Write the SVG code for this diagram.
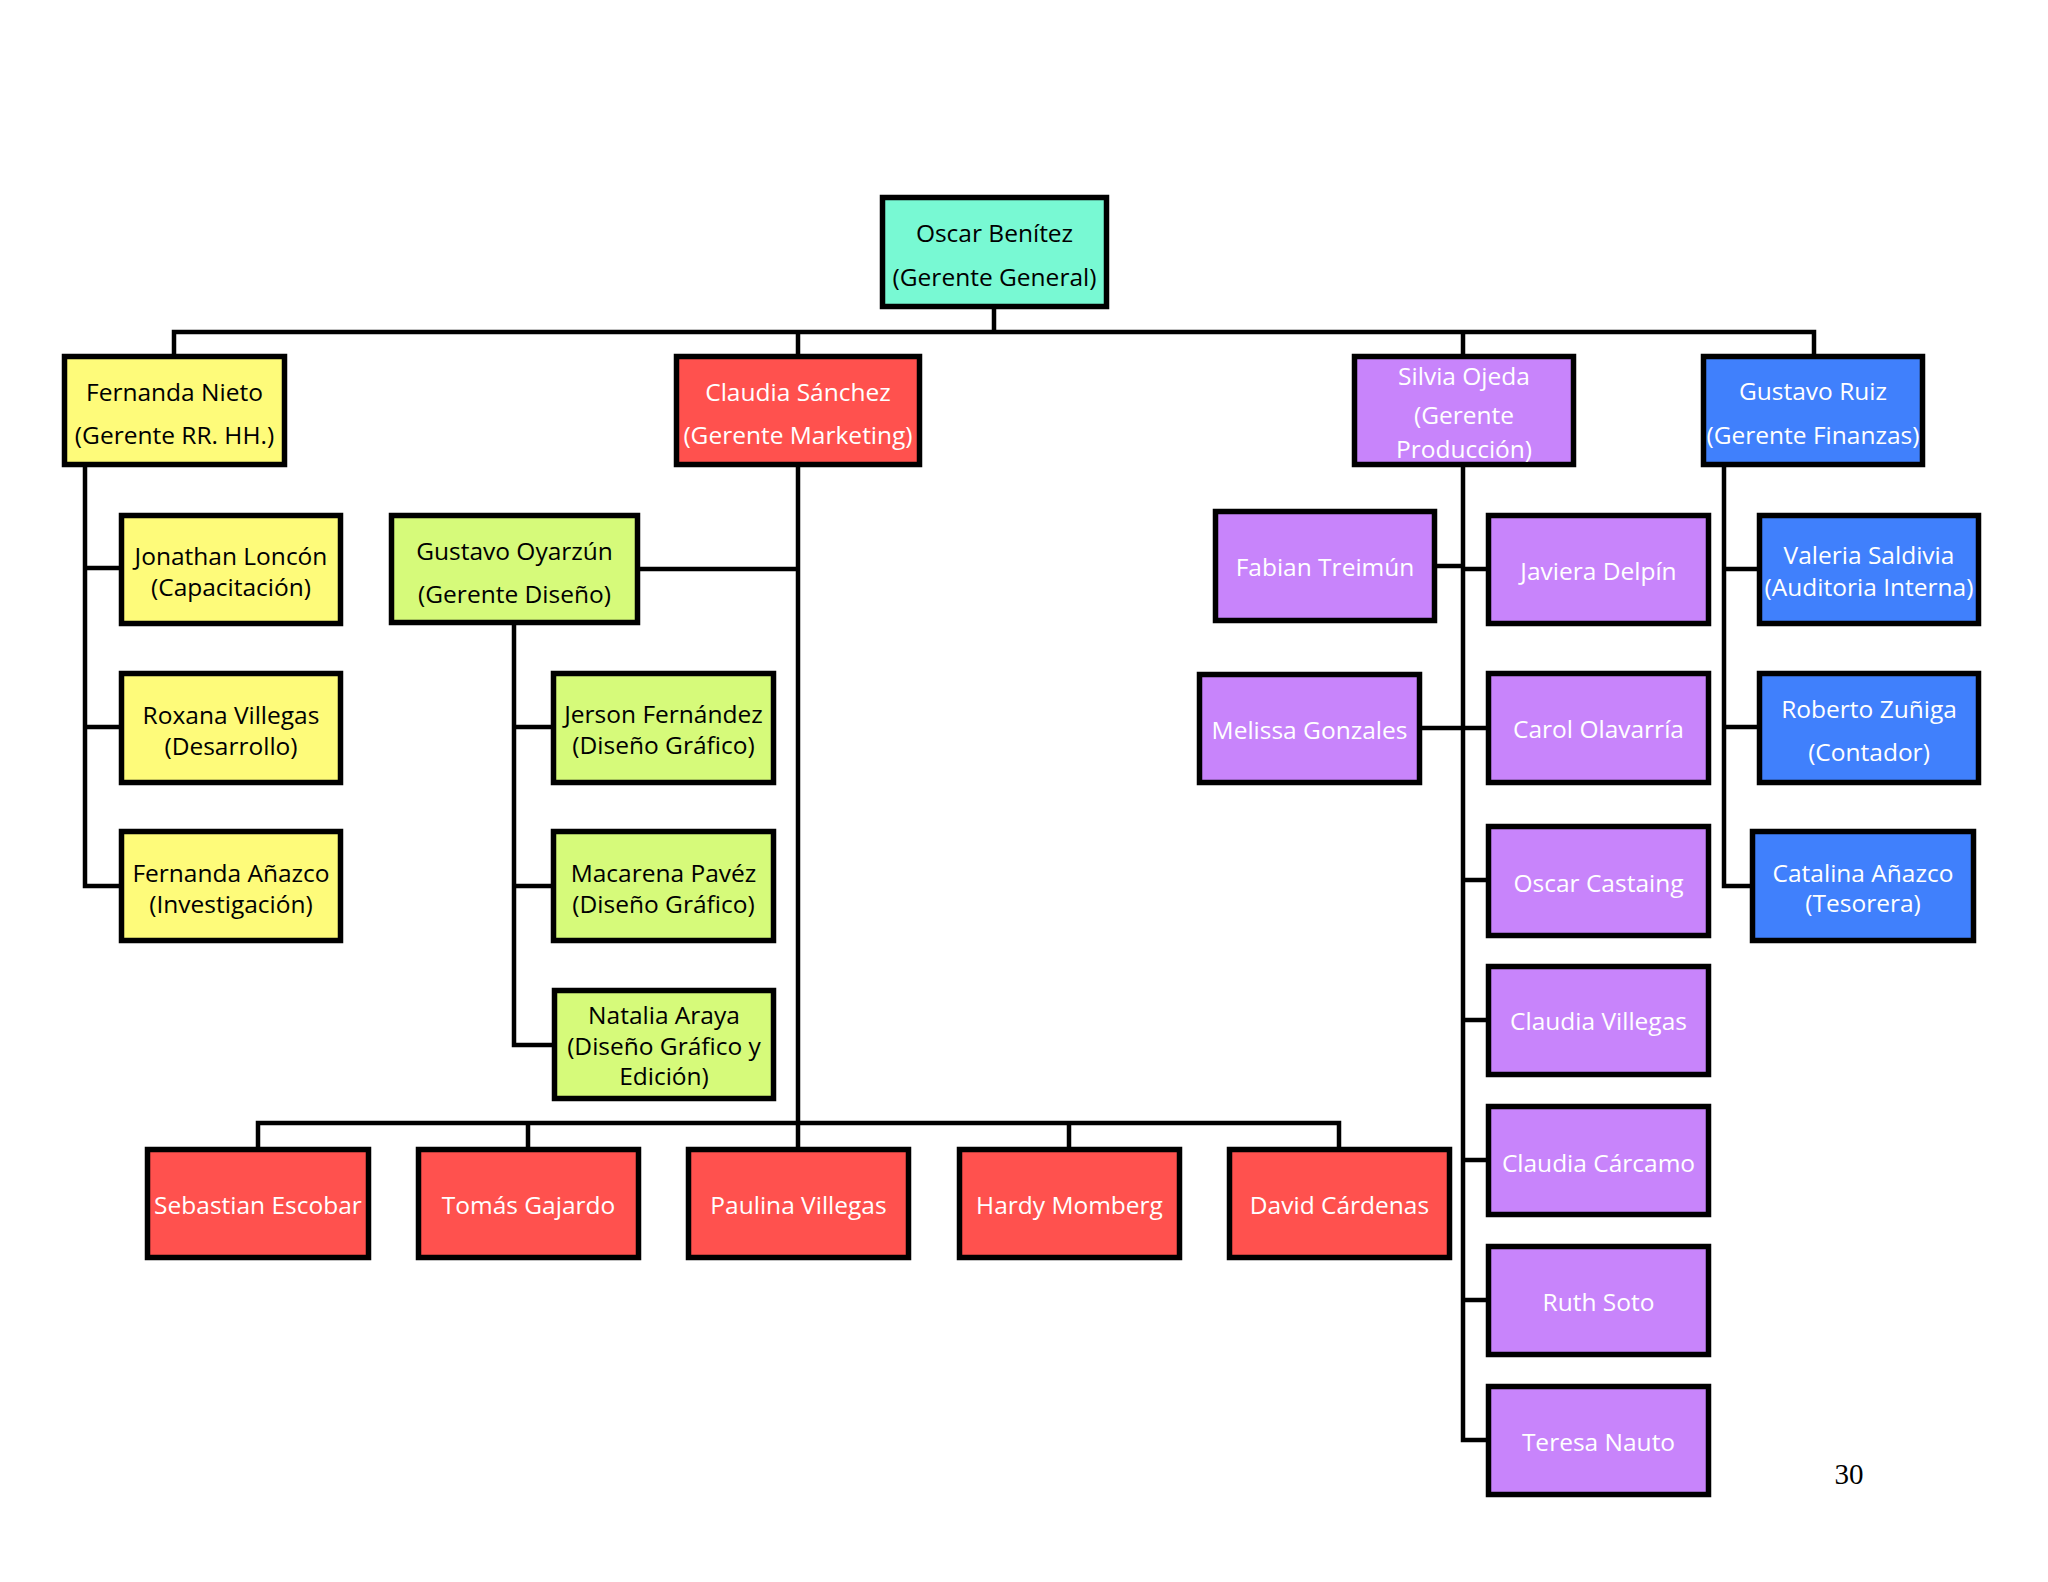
<svg xmlns="http://www.w3.org/2000/svg" width="2048" height="1582" viewBox="0 0 2048 1582">
<style>
.b{stroke:#000;stroke-width:5.5}
.teal{fill:#78F9D3}.yel{fill:#FEFB7A}.red{fill:#FF514E}.lime{fill:#D6FA7A}.pur{fill:#C884FB}.blu{fill:#4080FC}
text{font-family:"Open Sans","Noto Sans","Liberation Sans",sans-serif;font-size:24.5px;text-anchor:middle}
.dk{fill:#000}.wt{fill:#fff}
.c{fill:none;stroke:#000;stroke-width:4.5;stroke-linecap:square}
</style>
<rect width="2048" height="1582" fill="#fff"/>
<g id="connectors" class="c">
<path d="M994 309V332M174 332H1814M174 332V354M798 332V354M1463 332V354M1814 332V354"/>
<path d="M85 467V886M85 568H119M85 727H119M85 886H119"/>
<path d="M798 467V1147M640 569H798"/>
<path d="M514 625V1045M514 727H551M514 886H551M514 1045H552"/>
<path d="M258 1123H1339M258 1123V1147M528 1123V1147M1069 1123V1147M1339 1123V1147"/>
<path d="M1463 467V1440M1463 569H1486M1463 728H1486M1463 880H1486M1463 1020H1486M1463 1160H1486M1463 1300H1486M1463 1440H1486M1437 566H1463M1422 728H1463"/>
<path d="M1724 467V886M1724 569H1757M1724 727H1757M1724 886H1750"/>
</g>
<g id="n-oscar"><rect class="b teal" x="882.5" y="197.5" width="224" height="109"/><text class="dk" x="994.5" y="242">Oscar Benítez</text><text class="dk" x="994.5" y="286">(Gerente General)</text></g>
<g id="n-fnieto"><rect class="b yel" x="64.5" y="356.5" width="220" height="108"/><text class="dk" x="174.5" y="401">Fernanda Nieto</text><text class="dk" x="174.5" y="444">(Gerente RR. HH.)</text></g>
<g id="n-csanchez"><rect class="b red" x="676.5" y="356.5" width="243" height="108"/><text class="wt" x="798" y="401">Claudia Sánchez</text><text class="wt" x="798" y="444">(Gerente Marketing)</text></g>
<g id="n-silvia"><rect class="b pur" x="1354.5" y="356.5" width="219" height="108"/><text class="wt" x="1464" y="385">Silvia Ojeda</text><text class="wt" x="1464" y="424">(Gerente</text><text class="wt" x="1464" y="458">Producción)</text></g>
<g id="n-gruiz"><rect class="b blu" x="1703.5" y="356.5" width="219" height="108"/><text class="wt" x="1813" y="400">Gustavo Ruiz</text><text class="wt" x="1813" y="444">(Gerente Finanzas)</text></g>
<g id="n-jonathan"><rect class="b yel" x="121.5" y="515.5" width="219" height="108"/><text class="dk" x="231" y="565">Jonathan Loncón</text><text class="dk" x="231" y="596">(Capacitación)</text></g>
<g id="n-roxana"><rect class="b yel" x="121.5" y="673.5" width="219" height="109"/><text class="dk" x="231" y="724">Roxana Villegas</text><text class="dk" x="231" y="755">(Desarrollo)</text></g>
<g id="n-fanazco"><rect class="b yel" x="121.5" y="831.5" width="219" height="109"/><text class="dk" x="231" y="882">Fernanda Añazco</text><text class="dk" x="231" y="913">(Investigación)</text></g>
<g id="n-goyarzun"><rect class="b lime" x="391.5" y="515.5" width="246" height="107"/><text class="dk" x="514.5" y="560">Gustavo Oyarzún</text><text class="dk" x="514.5" y="603">(Gerente Diseño)</text></g>
<g id="n-jerson"><rect class="b lime" x="553.5" y="673.5" width="220" height="109"/><text class="dk" x="663.5" y="723">Jerson Fernández</text><text class="dk" x="663.5" y="754">(Diseño Gráfico)</text></g>
<g id="n-macarena"><rect class="b lime" x="553.5" y="831.5" width="220" height="109"/><text class="dk" x="663.5" y="882">Macarena Pavéz</text><text class="dk" x="663.5" y="913">(Diseño Gráfico)</text></g>
<g id="n-natalia"><rect class="b lime" x="554.5" y="990.5" width="219" height="108"/><text class="dk" x="664" y="1024">Natalia Araya</text><text class="dk" x="664" y="1055">(Diseño Gráfico y</text><text class="dk" x="664" y="1085">Edición)</text></g>
<g id="n-sebastian"><rect class="b red" x="147.5" y="1149.5" width="221" height="108"/><text class="wt" x="258" y="1214">Sebastian Escobar</text></g>
<g id="n-tomas"><rect class="b red" x="418.5" y="1149.5" width="220" height="108"/><text class="wt" x="528.5" y="1214">Tomás Gajardo</text></g>
<g id="n-paulina"><rect class="b red" x="688.5" y="1149.5" width="220" height="108"/><text class="wt" x="798.5" y="1214">Paulina Villegas</text></g>
<g id="n-hardy"><rect class="b red" x="959.5" y="1149.5" width="220" height="108"/><text class="wt" x="1069.5" y="1214">Hardy Momberg</text></g>
<g id="n-david"><rect class="b red" x="1229.5" y="1149.5" width="220" height="108"/><text class="wt" x="1339.5" y="1214">David Cárdenas</text></g>
<g id="n-fabian"><rect class="b pur" x="1215.5" y="511.5" width="219" height="109"/><text class="wt" x="1325" y="576">Fabian Treimún</text></g>
<g id="n-javiera"><rect class="b pur" x="1488.5" y="515.5" width="220" height="108"/><text class="wt" x="1598.5" y="580">Javiera Delpín</text></g>
<g id="n-valeria"><rect class="b blu" x="1759.5" y="515.5" width="219" height="108"/><text class="wt" x="1869" y="564">Valeria Saldivia</text><text class="wt" x="1869" y="596">(Auditoria Interna)</text></g>
<g id="n-melissa"><rect class="b pur" x="1199.5" y="674.5" width="220" height="108"/><text class="wt" x="1309.5" y="739">Melissa Gonzales</text></g>
<g id="n-carol"><rect class="b pur" x="1488.5" y="673.5" width="220" height="109"/><text class="wt" x="1598.5" y="738">Carol Olavarría</text></g>
<g id="n-roberto"><rect class="b blu" x="1759.5" y="673.5" width="219" height="109"/><text class="wt" x="1869" y="718">Roberto Zuñiga</text><text class="wt" x="1869" y="761">(Contador)</text></g>
<g id="n-ocastaing"><rect class="b pur" x="1488.5" y="826.5" width="220" height="109"/><text class="wt" x="1598.5" y="892">Oscar Castaing</text></g>
<g id="n-catalina"><rect class="b blu" x="1752.5" y="831.5" width="221" height="109"/><text class="wt" x="1863" y="882">Catalina Añazco</text><text class="wt" x="1863" y="912">(Tesorera)</text></g>
<g id="n-cvillegas"><rect class="b pur" x="1488.5" y="966.5" width="220" height="108"/><text class="wt" x="1598.5" y="1030">Claudia Villegas</text></g>
<g id="n-ccarcamo"><rect class="b pur" x="1488.5" y="1106.5" width="220" height="108"/><text class="wt" x="1598.5" y="1172">Claudia Cárcamo</text></g>
<g id="n-ruth"><rect class="b pur" x="1488.5" y="1246.5" width="220" height="108"/><text class="wt" x="1598.5" y="1311">Ruth Soto</text></g>
<g id="n-teresa"><rect class="b pur" x="1488.5" y="1386.5" width="220" height="108"/><text class="wt" x="1598.5" y="1451">Teresa Nauto</text></g>
<text x="1849" y="1484" style="font-family:'Liberation Serif','Times New Roman',serif;font-size:29px;fill:#000">30</text>
</svg>
